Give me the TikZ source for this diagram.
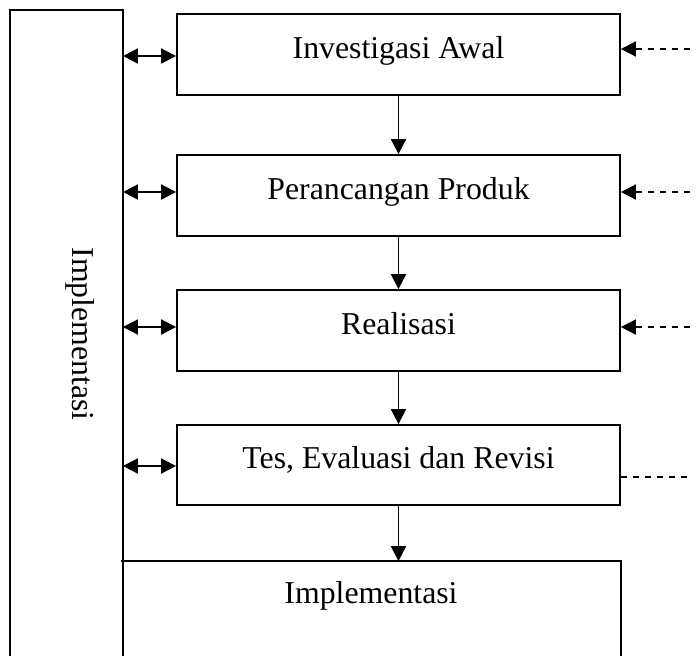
\documentclass[tikz,border=0pt]{standalone}
\usepackage{fontspec}
\setmainfont{Liberation Serif}
\usetikzlibrary{arrows.meta}
\begin{document}
\begin{tikzpicture}[x=0.5pt,y=-0.5pt,
  line width=0.9pt,
  stage/.style={draw, rectangle, minimum width=221.5pt, minimum height=40.5pt, inner sep=0pt,
    font=\fontsize{15.9}{18}\selectfont, text height=10pt, text depth=6.2pt},
  lbl/.style={font=\fontsize{15.9}{18}\selectfont, inner sep=0pt, anchor=base},
  tip/.style={-{Triangle[length=7.5pt,width=7.5pt]}},
  both/.style={{Triangle[length=7.5pt,width=7.5pt]}-{Triangle[length=7.5pt,width=7.5pt]}},
  feed/.style={dash pattern=on 3pt off 3pt}]
\useasboundingbox (0,0) rectangle (696,655);

\node[stage] (b1) at (398.5,54.5) {Investigasi Awal};
\node[stage] (b2) at (398.5,195.5) {Perancangan Produk};
\node[stage] (b3) at (398.5,330.5) {Realisasi};
\node[stage,minimum height=40pt] (b4) at (398.5,465) {Tes, Evaluasi dan Revisi};

\node[inner sep=0pt, minimum width=55.5pt, minimum height=322pt] (side) at (66.5,333) {};
\node[inner sep=0pt, minimum width=249pt, minimum height=46.5pt] (impl) at (371,608.5) {};
\draw (side.south west) -- (side.north west) -- (side.north east) -- (side.south east);
\draw (impl.north west) -- (impl.north east) -- (impl.south east);
\node[lbl, rotate=-90] (sidetext) at (72,334) {Implementasi};
\node[lbl] (impltext) at (371,603) {Implementasi};

% side double arrows
\coordinate (y1) at (0,56);
\coordinate (y2) at (0,192);
\coordinate (y3) at (0,327);
\coordinate (y4) at (0,466);
\draw[both] (side.east |- y1) -- (b1.west |- y1);
\draw[both] (side.east |- y2) -- (b2.west |- y2);
\draw[both] (side.east |- y3) -- (b3.west |- y3);
\draw[both] (side.east |- y4) -- (b4.west |- y4);

% flow arrows
\draw[tip] (b1.south) -- (b2.north);
\draw[tip] (b2.south) -- (b3.north);
\draw[tip] (b3.south) -- (b4.north);
\draw[tip] (b4.south) -- (b4.south |- impl.north);

% dashed feedback
\coordinate (f1) at (690,49);
\coordinate (f2) at (690,192);
\coordinate (f3) at (690,327);
\coordinate (f4) at (690,477);
\draw[feed,tip] (f1) -- (b1.east |- f1);
\draw[feed,tip] (f2) -- (b2.east |- f2);
\draw[feed,tip] (f3) -- (b3.east |- f3);
\draw[feed] (b4.east |- f4) -- (f4);
\end{tikzpicture}
\end{document}
